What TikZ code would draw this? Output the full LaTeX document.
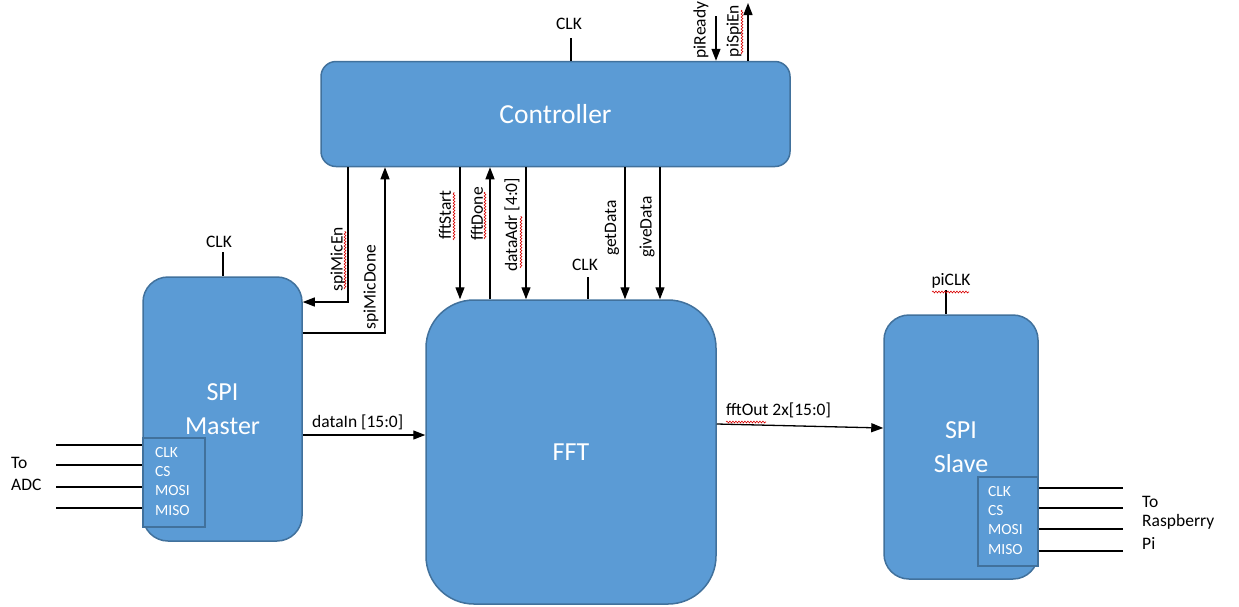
\documentclass[tikz,border=0pt]{standalone}
\usepackage{fontspec}
\setmainfont{Carlito}
\usetikzlibrary{arrows.meta,decorations.pathmorphing}
\definecolor{boxfill}{HTML}{5B9BD5}
\definecolor{boxline}{HTML}{41719C}
\begin{document}
\begin{tikzpicture}[x=1pt,y=-1pt,
  blk/.style={draw=boxline, fill=boxfill, line width=1.5pt, text=white, inner sep=0pt, align=center, font=\fontsize{26}{34}\selectfont},
  subbox/.style={draw=boxline, fill=boxfill, line width=1.5pt, inner sep=0pt},
  sig/.style={line width=1.3pt},
  arr/.style={sig, -{Triangle[length=12pt,width=9pt]}},
  lbl/.style={font=\fontsize{17.5}{20}\selectfont, inner sep=0pt},
  rlbl/.style={lbl, rotate=90},
  pintxt/.style={font=\fontsize{15.5}{18}\selectfont, text=white, inner sep=0pt, anchor=west},
  squig/.style={draw=red!85!black, line width=0.6pt, decorate, decoration={snake, amplitude=0.9pt, segment length=3pt}}]
\useasboundingbox (0,0) rectangle (1239,606);

% blocks
\node[blk, font=\fontsize{27.5}{34}\selectfont, minimum width=469pt, minimum height=105pt, rounded corners=15pt] (ctrl) at (555.5,114) {Controller};
\node[blk, minimum width=159pt, minimum height=264pt, rounded corners=25pt] (master) at (222.5,409) {SPI\\Master};
\node[blk, minimum width=290pt, minimum height=304pt, rounded corners=48pt] (fft) at (571,452) {FFT};
\node[blk, minimum width=154pt, minimum height=264pt, rounded corners=25pt] (slave) at (961,447) {SPI\\Slave};

% pin boxes
\node[subbox, minimum width=62pt, minimum height=89pt] (mpins) at (174,482.5) {};
\node[pintxt] (mclk) at (155,453) {CLK};
\node[pintxt] (mcs) at (155,472) {CS};
\node[pintxt] (mmosi) at (155,491) {MOSI};
\node[pintxt] (mmiso) at (155,511) {MISO};

\node[subbox, minimum width=60pt, minimum height=89pt] (spins) at (1008,521.5) {};
\node[pintxt] (sclk) at (988,492) {CLK};
\node[pintxt] (scs) at (988,511) {CS};
\node[pintxt] (smosi) at (988,530) {MOSI};
\node[pintxt] (smiso) at (988,550) {MISO};

% ADC side
\coordinate (a1) at (56,445);
\coordinate (a2) at (56,465);
\coordinate (a3) at (56,487);
\coordinate (a4) at (56,508);
\draw[sig] (a1) -- (a1 -| mpins.west);
\draw[sig] (a2) -- (a2 -| mpins.west);
\draw[sig] (a3) -- (a3 -| mpins.west);
\draw[sig] (a4) -- (a4 -| mpins.west);
\node[lbl, anchor=west] (toadc1) at (11,463) {To};
\node[lbl, anchor=west] (toadc2) at (11,485) {ADC};

% Raspberry side
\coordinate (r1) at (1123,488);
\coordinate (r2) at (1123,508);
\coordinate (r3) at (1123,529);
\coordinate (r4) at (1123,551);
\draw[sig] (r1 -| spins.east) -- (r1);
\draw[sig] (r2 -| spins.east) -- (r2);
\draw[sig] (r3 -| spins.east) -- (r3);
\draw[sig] (r4 -| spins.east) -- (r4);
\node[lbl, anchor=west] (torp1) at (1142,502) {To};
\node[lbl, anchor=west] (torp2) at (1142,522) {Raspberry};
\node[lbl, anchor=west] (torp3) at (1142,543) {Pi};

% controller top
\coordinate (cclk) at (571,38);
\draw[sig] (cclk) -- (cclk |- ctrl.north);
\node[lbl] (cclkt) at (569,24) {CLK};
\coordinate (prdy) at (716,16);
\draw[arr] (prdy) -- (prdy |- ctrl.north);
\node[rlbl] (prdyt) at (701,30) {piReady};
\coordinate (pspi) at (748,3);
\draw[arr] (pspi |- ctrl.north) -- (pspi);
\node[rlbl] (pspit) at (734,31) {piSpiEn};
\draw[squig] (742,54) -- (742,10);

% controller <-> SPI master
\draw[arr] (ctrl.south -| 348,0) |- (master.east |- 0,302);
\node[rlbl] (mict) at (338,259) {spiMicEn};
\draw[squig] (345,289) -- (345,231);
\draw[arr] (master.east |- 0,333) -| (ctrl.south -| 385,0);
\node[rlbl] (micdt) at (371,287) {spiMicDone};

% controller <-> FFT
\draw[arr] (ctrl.south -| 460,0) -- (fft.north -| 460,0);
\node[rlbl] (fstt) at (445,215) {fftStart};
\draw[squig] (454,240) -- (454,192);
\draw[arr] (fft.north -| 490,0) -- (ctrl.south -| 490,0);
\node[rlbl] (fdnt) at (477,214) {fftDone};
\draw[squig] (485,239) -- (485,192);
\draw[arr] (ctrl.south -| 526,0) -- (fft.north -| 526,0);
\node[rlbl] (dadt) at (512,225) {dataAdr [4:0]};
\draw[squig] (521,268) -- (521,216);
\draw[arr] (ctrl.south -| 625,0) -- (fft.north -| 625,0);
\node[rlbl] (gdt) at (612,228) {getData};
\draw[arr] (ctrl.south -| 660,0) -- (fft.north -| 660,0);
\node[rlbl] (gvdt) at (647,227) {giveData};

% FFT clock
\coordinate (fclk) at (588,277);
\draw[sig] (fclk) -- (fclk |- fft.north);
\node[lbl] (fclkt) at (585,265) {CLK};

% master clock
\coordinate (mclkc) at (223,252);
\draw[sig] (mclkc) -- (mclkc |- master.north);
\node[lbl] (mclkt) at (219,242) {CLK};

% slave clock
\coordinate (pclk) at (946,290);
\draw[sig] (pclk) -- (pclk |- slave.north);
\node[lbl] (pclkt) at (951,281) {piCLK};
\draw[squig] (932,292) -- (969,292);

% data paths
\draw[arr] (master.east |- 0,435) -- (fft.west |- 0,435);
\node[lbl, anchor=west] (dint) at (312,422) {dataIn [15:0]};
\draw[arr] (fft.east |- 0,424) -- (slave.west |- 0,428);
\node[lbl, anchor=west] (foutt) at (726,410) {fftOut 2x[15:0]};
\draw[squig] (726,422) -- (766,422);
\end{tikzpicture}
\end{document}
